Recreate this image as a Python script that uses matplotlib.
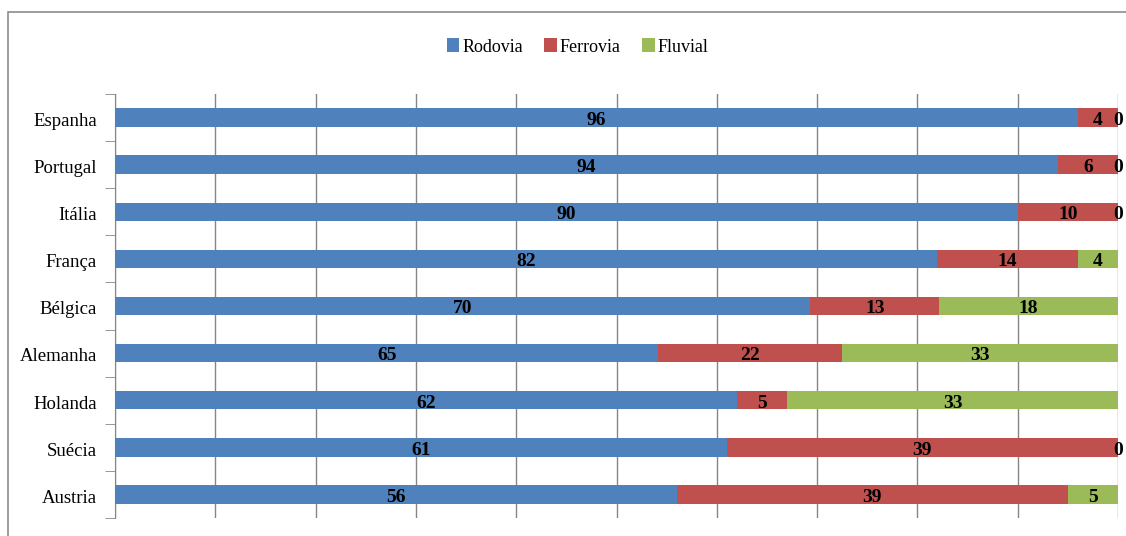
import matplotlib.pyplot as plt
from matplotlib.patches import Rectangle

# --- data ---
countries = ['Espanha', 'Portugal', 'Itália', 'França', 'Bélgica',
             'Alemanha', 'Holanda', 'Suécia', 'Austria']
rodovia = [96, 94, 90, 82, 70, 65, 62, 61, 56]
ferrovia = [4, 6, 10, 14, 13, 22, 5, 39, 39]
fluvial = [0, 0, 0, 4, 18, 33, 33, 0, 5]

series = [('Rodovia', rodovia, '#4F81BD'),
          ('Ferrovia', ferrovia, '#C0504D'),
          ('Fluvial', fluvial, '#9BBB59')]

plt.rcParams['font.family'] = ['Liberation Serif', 'DejaVu Serif']

fig = plt.figure(figsize=(11.26, 5.36), dpi=100)
ax = fig.add_axes([115/1126, 1 - 518/536, 1003/1126, 424/536])

# outer chart border (cut off at right / bottom like the original)
fig.patches.append(Rectangle((8/1126, -0.05), 1.2, 1 - 12/536 + 0.05,
                             transform=fig.transFigure, fill=False,
                             edgecolor='#8c8c8c', linewidth=1.2))

totals = [r + f + v for r, f, v in zip(rodovia, ferrovia, fluvial)]
ypos = list(range(len(countries)))
left = [0.0] * len(countries)
for name, vals, col in series:
    widths = [v / t * 100 for v, t in zip(vals, totals)]
    ax.barh(ypos, widths, left=left, height=0.39, color=col, label=name,
            zorder=3)
    for y, l, w, v in zip(ypos, left, widths, vals):
        ax.text(l + w / 2, y + 0.06, str(v), ha='center', va='center',
                fontsize=14, fontweight='bold', zorder=4)
    left = [l + w for l, w in zip(left, widths)]

ax.set_xlim(0, 100)
ax.set_ylim(len(countries) - 0.5, -0.5)
ax.set_xticks(range(0, 101, 10))
ax.set_xticklabels([])
ax.tick_params(axis='x', length=0)
ax.grid(axis='x', color='#868686', linewidth=1, zorder=0)

ax.set_yticks([y + 0.04 for y in ypos])
ax.set_yticklabels(countries, fontsize=13.5)
ax.set_yticks([i - 0.5 for i in range(len(countries) + 1)], minor=True)
ax.tick_params(axis='y', which='major', length=0, pad=13)
ax.tick_params(axis='y', which='minor', length=7, color='#868686')

for s in ['top', 'right', 'bottom']:
    ax.spines[s].set_visible(False)
ax.spines['left'].set_color('#868686')

fig.legend(loc='center', bbox_to_anchor=(0.513, 1 - 47/536), ncol=3,
           frameon=False, fontsize=13, handlelength=0.7, handleheight=0.8,
           handletextpad=0.15, columnspacing=1.2)

fig.savefig('out.png', dpi=100)
